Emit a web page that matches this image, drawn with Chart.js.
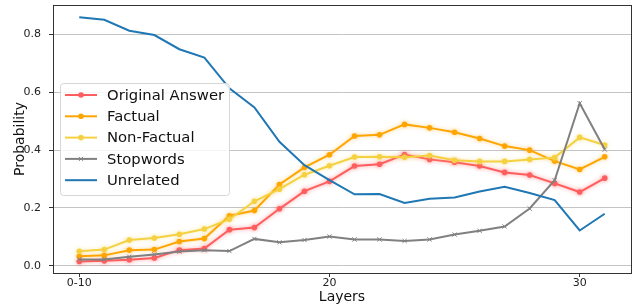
<!DOCTYPE html>
<html>
<head>
<meta charset="utf-8">
<script src="https://cdn.jsdelivr.net/npm/chart.js@4.4.1/dist/chart.umd.min.js"></script>
<style>
  body { margin: 0; background: #fff; }
  canvas { display: block; }
</style>
</head>
<body>
<canvas id="chart" width="639" height="308"></canvas>
<script>
// layers: 10 stands for the "0-10" bucket
const layers = [10, 11, 12, 13, 14, 15, 16, 17, 18, 19, 20, 21, 22, 23, 24, 25, 26, 27, 28, 29, 30, 31];
const xTickValues = [10, 20, 30];
const xTickLabels = ["0-10", "20", "30"];
const yTickValues = [0, 0.2, 0.4, 0.6, 0.8];

const originalAnswer = [0.015, 0.017, 0.021, 0.027, 0.054, 0.060, 0.125, 0.132, 0.197, 0.258, 0.292,
  0.345, 0.351, 0.385, 0.368, 0.358, 0.345, 0.323, 0.314, 0.285, 0.255, 0.303];
const factual = [0.033, 0.036, 0.054, 0.056, 0.084, 0.094, 0.173, 0.191, 0.281, 0.340, 0.384,
  0.449, 0.453, 0.489, 0.477, 0.462, 0.440, 0.414, 0.400, 0.362, 0.333, 0.377];
const nonFactual = [0.050, 0.056, 0.089, 0.096, 0.109, 0.127, 0.161, 0.223, 0.265, 0.315, 0.346,
  0.376, 0.377, 0.375, 0.381, 0.365, 0.361, 0.361, 0.368, 0.374, 0.444, 0.418];
const stopwords = [0.022, 0.022, 0.031, 0.039, 0.049, 0.054, 0.051, 0.093, 0.081, 0.089, 0.101,
  0.091, 0.091, 0.086, 0.091, 0.108, 0.121, 0.136, 0.198, 0.296, 0.562, 0.402];
const unrelated = [0.860, 0.851, 0.813, 0.798, 0.749, 0.720, 0.614, 0.548, 0.429, 0.348, 0.296,
  0.247, 0.248, 0.217, 0.232, 0.236, 0.257, 0.273, 0.252, 0.227, 0.122, 0.180];

const FONT = "'DejaVu Sans', sans-serif";
const pts = arr => arr.map((v, i) => ({ x: layers[i], y: v }));

function series(label, data, color, style, glow, order) {
  return {
    label, data: pts(data), borderColor: color, backgroundColor: color,
    borderWidth: 2, pointStyle: style || "circle",
    pointRadius: style === false ? 0 : (style === "crossRot" ? 3 : 2.8),
    pointBorderWidth: style === "crossRot" ? 1 : 0,
    pointHoverRadius: 0, tension: 0, glow, order
  };
}

// soft halo behind some of the lines
const glowPlugin = {
  id: "glow",
  beforeDatasetDraw(chart, args) {
    const ds = chart.data.datasets[args.index];
    if (!ds.glow) return;
    const ctx = chart.ctx;
    ctx.save();
    ctx.shadowColor = ds.glow;
    ctx.shadowBlur = 4;
  },
  afterDatasetDraw(chart, args) {
    const ds = chart.data.datasets[args.index];
    if (ds.glow) chart.ctx.restore();
  }
};

// frame plus legend inside the plot
const framePlugin = {
  id: "frame",
  afterDraw(chart) {
    const { ctx, chartArea: a } = chart;
    ctx.save();
    ctx.strokeStyle = "#333";
    ctx.lineWidth = 1;
    ctx.strokeRect(a.left + 0.5, a.top + 0.5, a.right - a.left, a.bottom - a.top);

    const bx = a.left + 7, by = a.top + 78, bw = 169, bh = 112;
    ctx.beginPath();
    ctx.roundRect(bx + 0.5, by + 0.5, bw, bh, 3);
    ctx.fillStyle = "rgba(255,255,255,0.85)";
    ctx.fill();
    ctx.strokeStyle = "#d6d6d6";
    ctx.stroke();

    const items = chart.data.datasets.slice().sort((p, q) => p.legendIdx - q.legendIdx);
    items.forEach((ds, i) => {
      const cy = by + 12 + i * 21.3;
      ctx.strokeStyle = ds.borderColor;
      ctx.lineWidth = 2;
      ctx.beginPath();
      ctx.moveTo(bx + 5, cy);
      ctx.lineTo(bx + 37, cy);
      ctx.stroke();
      if (ds.pointRadius > 0) {
        if (ds.pointStyle === "crossRot") {
          ctx.lineWidth = 1;
          ctx.beginPath();
          ctx.moveTo(bx + 19, cy - 2); ctx.lineTo(bx + 23, cy + 2);
          ctx.moveTo(bx + 23, cy - 2); ctx.lineTo(bx + 19, cy + 2);
          ctx.stroke();
        } else {
          ctx.fillStyle = ds.borderColor;
          ctx.beginPath();
          ctx.arc(bx + 21, cy, 2.8, 0, Math.PI * 2);
          ctx.fill();
        }
      }
      ctx.fillStyle = "#111";
      ctx.font = "14.8px " + FONT;
      ctx.textBaseline = "middle";
      ctx.textAlign = "left";
      ctx.fillText(ds.label, bx + 47, cy + 1);
    });
    ctx.restore();
  }
};

const datasets = [
  series("Original Answer", originalAnswer, "#ff5e5e", "circle", "rgba(255,94,94,0.6)", 5),
  series("Factual", factual, "#ffa500", "circle", "rgba(255,165,0,0.45)", 4),
  series("Non-Factual", nonFactual, "#f5d142", "circle", "rgba(245,209,66,0.45)", 3),
  series("Stopwords", stopwords, "#808080", "crossRot", null, 2),
  series("Unrelated", unrelated, "#1f77b4", false, null, 1)
];
datasets.forEach((d, i) => d.legendIdx = i);

const noPad = s => { s.paddingTop = 0; s.paddingBottom = 0; s.paddingLeft = 0; s.paddingRight = 0; };

new Chart(document.getElementById("chart"), {
  type: "line",
  data: { datasets },
  plugins: [glowPlugin, framePlugin],
  options: {
    responsive: false,
    animation: false,
    devicePixelRatio: 1,
    layout: { padding: { left: 0, top: 5, right: 8, bottom: 0 } },
    plugins: { legend: { display: false }, tooltip: { enabled: false } },
    scales: {
      x: {
        type: "linear", min: 8.95, max: 32.05,
        afterFit: s => { s.height = 35; noPad(s); },
        afterBuildTicks: s => { s.ticks = xTickValues.map(v => ({ value: v })); },
        ticks: {
          callback: v => xTickLabels[xTickValues.indexOf(v)],
          font: { family: FONT, size: 11 }, color: "#222", padding: 0, maxRotation: 0
        },
        grid: { drawOnChartArea: false, tickLength: 4, tickColor: "#333" },
        border: { color: "#333", width: 1 },
        title: { display: true, text: "Layers", font: { family: FONT, size: 14 }, color: "#111", padding: { top: 0, bottom: 2 } }
      },
      y: {
        min: -0.025, max: 0.902,
        afterFit: s => { s.width = 53; noPad(s); },
        afterBuildTicks: s => { s.ticks = yTickValues.map(v => ({ value: v })); },
        ticks: {
          callback: v => v.toFixed(1),
          font: { family: FONT, size: 11 }, color: "#222", padding: 8
        },
        grid: { color: "#c4c4c4", lineWidth: 1, tickLength: 4, tickColor: "#333" },
        border: { color: "#333", width: 1 },
        title: { display: true, text: "Probability", font: { family: FONT, size: 14 }, color: "#111", padding: { top: 12, bottom: 0 } }
      }
    }
  }
});
</script>
</body>
</html>
